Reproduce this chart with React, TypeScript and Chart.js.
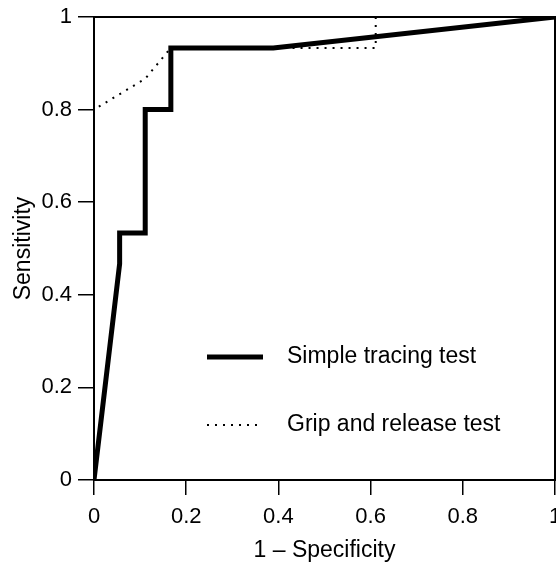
import React, { useEffect, useRef } from "react";
import { Chart, registerables } from "chart.js";

Chart.register(...registerables);

const simpleX = [0, 0.0556, 0.0556, 0.1111, 0.1111, 0.1667, 0.1667, 0.3889, 1];
const simpleY = [0, 0.4667, 0.5333, 0.5333, 0.8, 0.8, 0.9333, 0.9333, 1];
const gripX = [0, 0, 0.1111, 0.1667, 0.6111, 0.6111, 1];
const gripY = [0, 0.8, 0.8667, 0.9333, 0.9333, 1, 1];
const seriesLabels = ["Simple tracing test", "Grip and release test"];
const tickValues = [0, 0.2, 0.4, 0.6, 0.8, 1];
const xTitle = "1 \u2013 Specificity";
const yTitle = "Sensitivity";

const FONT = "'Liberation Sans', Arial, Helvetica, sans-serif";

const frameAndLegend = {
  id: "frameAndLegend",
  afterDatasetsDraw(chart: any) {
    const { ctx, chartArea } = chart;
    const { left, right, top, bottom } = chartArea;
    ctx.save();
    ctx.strokeStyle = "#000";
    ctx.lineWidth = 2;
    ctx.setLineDash([]);
    ctx.strokeRect(left, top, right - left, bottom - top);

    // legend
    const ds = chart.data.datasets;
    const lx0 = left + 113;
    const lx1 = left + 169;
    const tx = left + 193;
    const ys = [top + 340, top + 408];
    ds.forEach((d: any, i: number) => {
      const y = ys[i];
      ctx.beginPath();
      ctx.lineWidth = d.borderWidth;
      ctx.setLineDash(d.borderDash || []);
      ctx.lineCap = "butt";
      ctx.moveTo(lx0, y);
      ctx.lineTo(i === 0 ? lx1 : lx1 - 5, y);
      ctx.stroke();
      ctx.setLineDash([]);
      ctx.fillStyle = "#000";
      ctx.font = `23px ${FONT}`;
      ctx.textBaseline = "middle";
      ctx.textAlign = "left";
      ctx.fillText(d.label, tx, y);
    });
    ctx.restore();
  },
};

export default function App() {
  const ref = useRef<HTMLCanvasElement | null>(null);

  useEffect(() => {
    document.body.style.margin = "0";
    const canvas = ref.current;
    if (!canvas) return;
    const fmt = (v: any) => String(Number(Number(v).toFixed(1)));
    const chart = new Chart(canvas, {
      type: "scatter",
      data: {
        datasets: [
          {
            label: seriesLabels[0],
            data: simpleX.map((x, i) => ({ x, y: simpleY[i] })),
            showLine: true,
            borderColor: "#000",
            backgroundColor: "#000",
            borderWidth: 5,
            pointRadius: 0,
            borderJoinStyle: "miter",
            tension: 0,
          },
          {
            label: seriesLabels[1],
            data: gripX.map((x, i) => ({ x, y: gripY[i] })),
            showLine: true,
            borderColor: "#000",
            backgroundColor: "#000",
            borderWidth: 2,
            borderDash: [2, 6],
            pointRadius: 0,
            tension: 0,
          },
        ],
      },
      options: {
        animation: false,
        responsive: false,
        maintainAspectRatio: false,
        layout: { padding: { top: 17, right: 1, left: 0, bottom: 0 } },
        plugins: {
          legend: { display: false },
          tooltip: { enabled: false },
        },
        scales: {
          x: {
            type: "linear",
            min: 0,
            max: 1,
            afterFit: (s: any) => {
              s.height = 82;
              s.paddingLeft = 0;
              s.paddingRight = 0;
            },
            afterBuildTicks: (s: any) => {
              s.ticks = tickValues.map((v) => ({ value: v }));
            },
            grid: {
              drawOnChartArea: false,
              drawTicks: true,
              tickLength: 15,
              color: "#000",
              lineWidth: 1.5,
            },
            border: { display: false },
            ticks: {
              color: "#000",
              font: { family: FONT, size: 22 },
              padding: 9,
              maxRotation: 0,
              autoSkip: false,
              callback: fmt,
            },
            title: {
              display: true,
              text: xTitle,
              color: "#000",
              font: { family: FONT, size: 23, lineHeight: 1 },
              padding: { top: 0, bottom: 0 },
            },
          },
          y: {
            type: "linear",
            min: 0,
            max: 1,
            afterFit: (s: any) => {
              s.width = 94;
              s.paddingTop = 0;
              s.paddingBottom = 0;
            },
            afterBuildTicks: (s: any) => {
              s.ticks = tickValues.map((v) => ({ value: v }));
            },
            grid: {
              drawOnChartArea: false,
              drawTicks: true,
              tickLength: 16,
              color: "#000",
              lineWidth: 1.5,
            },
            border: { display: false },
            ticks: {
              color: "#000",
              font: { family: FONT, size: 22 },
              padding: 6,
              autoSkip: false,
              callback: fmt,
            },
            title: {
              display: true,
              text: yTitle,
              color: "#000",
              font: { family: FONT, size: 23, lineHeight: 1 },
              padding: { top: 12, bottom: 0 },
            },
          },
        },
      },
      plugins: [frameAndLegend],
    } as any);
    return () => chart.destroy();
  }, []);

  return (
    <div style={{ width: 556, height: 562 }}>
      <canvas ref={ref} width={556} height={562} style={{ display: "block" }} />
    </div>
  );
}
